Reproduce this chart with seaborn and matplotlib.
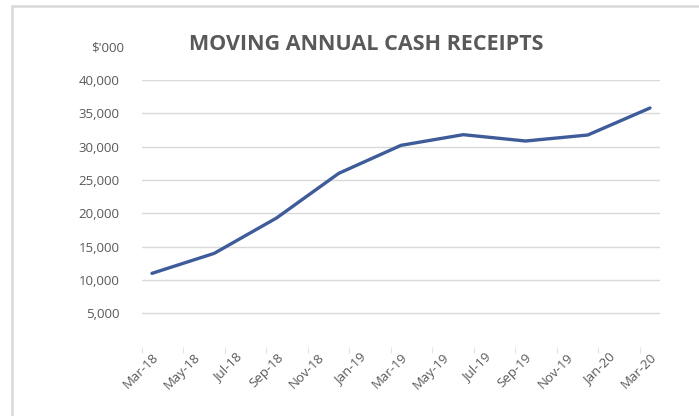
import matplotlib
matplotlib.use("Agg")
import matplotlib.pyplot as plt
import matplotlib.ticker as mticker
from matplotlib.lines import Line2D
import seaborn as sns
import pandas as pd
import numpy as np

# ---- data ----
quarters = ["Mar-18", "Jun-18", "Sep-18", "Dec-18", "Mar-19",
            "Jun-19", "Sep-19", "Dec-19", "Mar-20"]
receipts = [11000, 14000, 19300, 26000, 30200, 31800, 30850, 31750, 35800]
tick_labels = ["Mar-18", "May-18", "Jul-18", "Sep-18", "Nov-18", "Jan-19",
               "Mar-19", "May-19", "Jul-19", "Sep-19", "Nov-19", "Jan-20", "Mar-20"]
y_ticks = [5000, 10000, 15000, 20000, 25000, 30000, 35000, 40000]
title = "MOVING ANNUAL CASH RECEIPTS"
unit_label = "$'000"

sns.set_theme(style="white")
plt.rcParams['font.family'] = ['Open Sans', 'DejaVu Sans']

start = pd.to_datetime(quarters[0], format="%b-%y")
def month_index(lbl):
    d = pd.to_datetime(lbl, format="%b-%y")
    return (d.year - start.year) * 12 + (d.month - start.month)

df = pd.DataFrame({"month": [month_index(q) for q in quarters],
                   "receipts": receipts})
tick_pos = [month_index(t) for t in tick_labels]

W, H = 699, 416
fig = plt.figure(figsize=(W / 100, H / 100), dpi=100)
fig.patch.set_facecolor("white")
# chart border (top and left visible in the crop)
fig.lines.append(Line2D([12 / W, 1], [1 - 6 / H, 1 - 6 / H],
                        transform=fig.transFigure, color="#D9D9D9", linewidth=1.8))
fig.lines.append(Line2D([12 / W, 12 / W], [0, 1 - 6 / H],
                        transform=fig.transFigure, color="#D9D9D9", linewidth=1.8))

left, right = 141.6 / W, 660.4 / W
top, bottom = 1 - 80 / H, 1 - 346.7 / H
ax = fig.add_axes([left, bottom, right - left, top - bottom])

sns.lineplot(data=df, x="month", y="receipts", ax=ax, color="#3E5C9A",
             linewidth=2.4, solid_joinstyle="round", solid_capstyle="round")

ax.set_xlim(-0.5, 24.5)
ax.set_ylim(0, 40000)
ax.set_yticks(y_ticks)
ax.yaxis.set_major_formatter(mticker.FuncFormatter(lambda v, p: f"{int(v):,}"))
ax.set_xticks(tick_pos)
ax.set_xticklabels(tick_labels, rotation=45, ha="right", rotation_mode="anchor")
for lbl in ax.get_xticklabels():
    lbl.set_x(lbl.get_position()[0])
ax.set_xticks([p - 0.5 for p in tick_pos], minor=True)
ax.tick_params(axis="x", which="major", length=0, pad=3, labelsize=9.5,
               labelcolor="#595959")
ax.tick_params(axis="x", which="minor", length=4, color="#E3E3E3", width=0.8,
               bottom=True)
ax.tick_params(axis="y", length=0, pad=16, labelsize=9.5, labelcolor="#595959")
ax.grid(axis="y", color="#D9D9D9", linewidth=1)
ax.grid(axis="x", visible=False)
for s in ax.spines.values():
    s.set_visible(False)
ax.set_xlabel("")
ax.set_ylabel("")

fig.text(124 / W, 1 - 48 / H, unit_label, ha="right", va="center",
         fontsize=9.5, color="#595959")
fig.text(366 / W, 1 - 45 / H, title, ha="center", va="center",
         fontsize=15.5, fontweight="bold", color="#595959")

fig.savefig("out.png", dpi=100)
